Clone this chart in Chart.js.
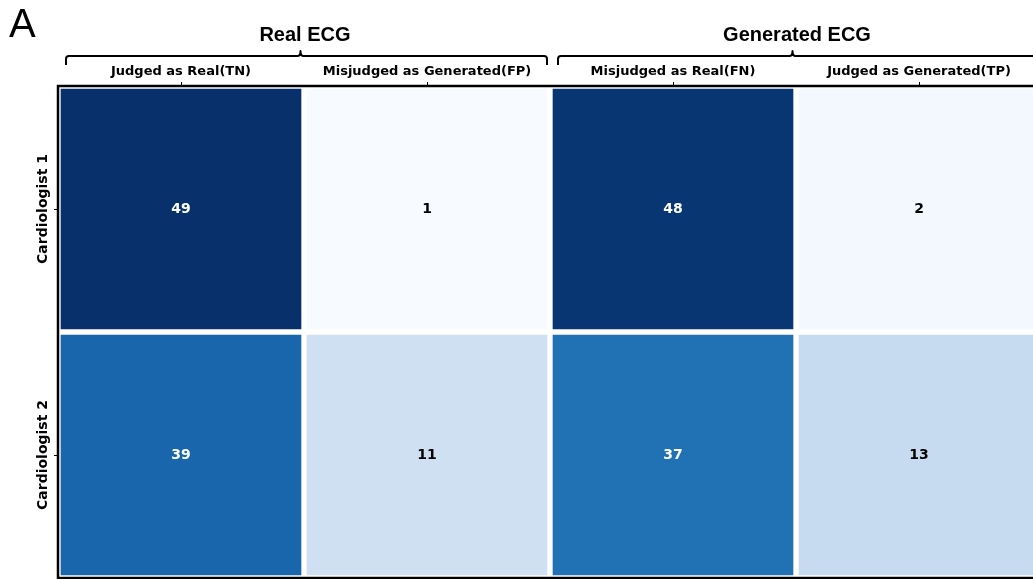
<!DOCTYPE html>
<html>
<head>
<meta charset="utf-8">
<script src="https://cdn.jsdelivr.net/npm/chart.js@4.4.1/dist/chart.umd.min.js"></script>
<style>
  html, body { margin: 0; padding: 0; background: #fff; overflow: hidden; }
  canvas { display: block; }
</style>
</head>
<body>
<canvas id="heat" width="1045" height="579"></canvas>
<script>
// confusion counts per cardiologist, one column per judgement outcome
const columns = ['Judged as Real(TN)', 'Misjudged as Generated(FP)', 'Misjudged as Real(FN)', 'Judged as Generated(TP)'];
const raters = ['Cardiologist 1', 'Cardiologist 2'];
const groups = ['Real ECG', 'Generated ECG'];
const groupSpans = [[0, 1], [2, 3]];
const cardiologist1 = [49, 1, 48, 2];
const cardiologist2 = [39, 11, 37, 13];
const rows = [cardiologist1, cardiologist2];
const panelLetter = 'A';

// matplotlib "Blues" stops
const BLUES = ['#f7fbff','#deebf7','#c6dbef','#9ecae1','#6baed6','#4292c6','#2171b5','#08519c','#08306b']
  .map(h => [1, 3, 5].map(i => parseInt(h.substr(i, 2), 16)));
function blues(t){
  t = Math.max(0, Math.min(1, t));
  const p = t * (BLUES.length - 1), i = Math.min(Math.floor(p), BLUES.length - 2), f = p - i;
  const c = BLUES[i].map((v, k) => Math.round(v + (BLUES[i + 1][k] - v) * f));
  return `rgb(${c[0]},${c[1]},${c[2]})`;
}
const allVals = rows.flat();
const vmin = Math.min(...allVals), vmax = Math.max(...allVals);
const norm = v => (v - vmin) / (vmax - vmin);

// each row is a dataset of floating bars spanning [row, row+1] on a reversed y scale
const datasets = rows.map((vals, r) => ({
  label: raters[r],
  data: vals.map(() => [r, r + 1]),
  backgroundColor: ctx => blues(norm(vals[ctx.dataIndex])),
  borderColor: '#ffffff',
  borderWidth: 3,
  borderSkipped: false,
  barPercentage: 1,
  categoryPercentage: 1,
  grouped: false
}));

const heatDecor = {
  id: 'heatDecor',
  afterDatasetsDraw(chart){
    const {ctx, chartArea: a, scales: {x, y}} = chart;
    ctx.save();
    // cell values
    ctx.font = 'bold 14px "DejaVu Sans"';
    ctx.textAlign = 'center';
    ctx.textBaseline = 'middle';
    rows.forEach((vals, r) => {
      const cy = y.getPixelForValue(r + 0.5);
      vals.forEach((v, c) => {
        ctx.fillStyle = norm(v) > 0.5 ? '#ffffff' : '#000000';
        ctx.fillText(String(v), x.getPixelForValue(c), cy);
      });
    });
    // frame
    ctx.strokeStyle = '#000';
    ctx.lineWidth = 2.5;
    ctx.strokeRect(a.left, a.top, a.right - a.left, a.bottom - a.top);
    ctx.restore();
  },
  afterDraw(chart){
    const {ctx, chartArea: a, scales: {x, y}} = chart;
    ctx.save();
    ctx.fillStyle = '#000';
    ctx.strokeStyle = '#000';

    // top tick marks + labels
    ctx.lineWidth = 1;
    ctx.font = 'bold 13px "DejaVu Sans"';
    ctx.textAlign = 'center';
    ctx.textBaseline = 'alphabetic';
    columns.forEach((lab, c) => {
      const px = x.getPixelForValue(c);
      ctx.beginPath();
      ctx.moveTo(px + 0.5, a.top - 4);
      ctx.lineTo(px + 0.5, a.top);
      ctx.stroke();
      ctx.fillText(lab, px, 75);
    });

    // left tick marks + rotated rater labels
    ctx.font = 'bold 14px "DejaVu Sans"';
    raters.forEach((lab, r) => {
      const py = y.getPixelForValue(r + 0.5);
      ctx.beginPath();
      ctx.moveTo(a.left - 4, py + 0.5);
      ctx.lineTo(a.left, py + 0.5);
      ctx.stroke();
      ctx.save();
      ctx.translate(47, py);
      ctx.rotate(-Math.PI / 2);
      ctx.fillText(lab, 0, 0);
      ctx.restore();
    });

    // group braces and titles
    const half = x.getPixelForValue(1) - x.getPixelForValue(0);
    ctx.lineWidth = 2;
    ctx.lineJoin = 'round';
    groupSpans.forEach(([c0, c1], g) => {
      const left = x.getPixelForValue(c0) - half / 2;
      const right = x.getPixelForValue(c1) + half / 2;
      const mid = (left + right) / 2;
      const x0 = left + 8, x1 = right - 3, xm = mid - 3.5, yb = 56;
      ctx.beginPath();
      ctx.moveTo(x0, yb + 9);
      ctx.lineTo(x0, yb + 3);
      ctx.quadraticCurveTo(x0, yb, x0 + 3, yb);
      ctx.lineTo(xm - 3, yb);
      ctx.quadraticCurveTo(xm, yb, xm, yb - 5);
      ctx.quadraticCurveTo(xm, yb, xm + 3, yb);
      ctx.lineTo(x1 - 3, yb);
      ctx.quadraticCurveTo(x1, yb, x1, yb + 3);
      ctx.lineTo(x1, yb + 9);
      ctx.stroke();
      ctx.font = 'bold 20px "Liberation Sans"';
      ctx.textAlign = 'center';
      ctx.fillText(groups[g], mid + 1, 41);
    });

    // panel letter
    ctx.font = '40px "Liberation Sans"';
    ctx.textAlign = 'left';
    ctx.fillText(panelLetter, 9, 37);
    ctx.restore();
  }
};

new Chart(document.getElementById('heat').getContext('2d'), {
  type: 'bar',
  data: { labels: columns, datasets },
  options: {
    responsive: false,
    animation: false,
    layout: { padding: { left: 58, top: 86, right: 3, bottom: 1 } },
    plugins: { legend: { display: false }, tooltip: { enabled: false } },
    scales: {
      x: { type: 'category', display: false, offset: true },
      y: { type: 'linear', display: false, min: 0, max: 2, reverse: true }
    }
  },
  plugins: [heatDecor]
});
</script>
</body>
</html>
